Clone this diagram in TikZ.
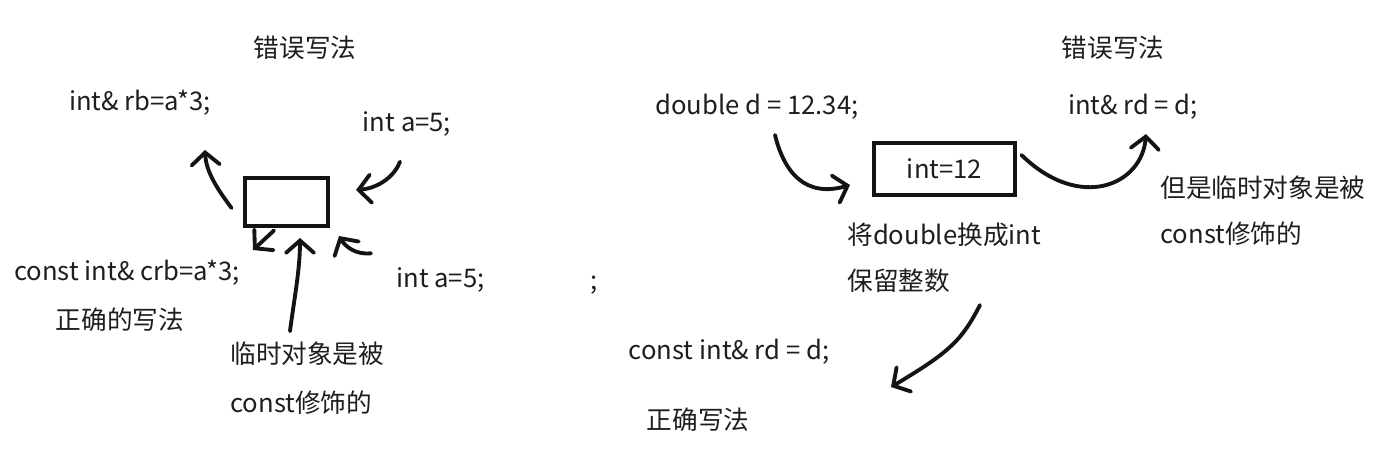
\documentclass[tikz,border=0pt]{standalone}
\usepackage{fontspec}
\setmainfont{Noto Sans CJK SC}
\usepackage{tikz}
\usetikzlibrary{arrows.meta,positioning}
\definecolor{inkBlack}{RGB}{20,20,20}
\definecolor{txtGray}{RGB}{30,30,30}

\begin{document}
\begin{tikzpicture}[x=0.02cm,y=-0.02cm,
    lbl/.style={text=txtGray, font=\fontsize{14.6}{17}\selectfont, inner sep=0pt},
    memo/.style={draw=inkBlack, line width=2.8pt, inner sep=0pt},
    pen/.style={draw=inkBlack, line width=2.2pt, line cap=round,
      -{Straight Barb[length=7pt,width=16pt,line cap=round]}}]
    \useasboundingbox (0,0) rectangle (1389,474);

    % left part: int& rb=a*3
    \node[lbl] (wrongL) at (305,48) {错误写法};
    \node[lbl] (rb) at (140,103) {int\& rb=a*3;};
    \node[lbl] (aTop) at (407,124) {int a=5;};
    \node[memo, minimum width=1.66cm, minimum height=0.96cm] (tmpL) at (286.5,202) {};
    \node[lbl] (crb) at (127,273) {const int\& crb=a*3;};
    \node[lbl] (rightL) at (120,320) {正确的写法};
    \node[lbl, anchor=west] (aBot) at (396,280) {int a=5;};
    \node[lbl] (semi) at (594,285) {;};
    \node[lbl, anchor=west, align=left] (noteL) at (230,378)
      {临时对象是被\\[11pt]const修饰的};

    \coordinate (rbTip) at (205,150);
    \coordinate (aTopTip) at (356,190);
    \coordinate (crbTip) at (253,250);
    \coordinate (upTip) at (300,238);
    \coordinate (aBotTip) at (339,236);

    \draw[pen] ([xshift=-0.22cm,yshift=-0.12cm]tmpL.west) .. controls (218,190) and (206,172) .. (rbTip);
    \draw[pen] ([xshift=-0.14cm,yshift=-0.5cm]aTop.south) .. controls (395,175) and (380,188) .. (aTopTip);
    \draw[pen] ([xshift=-0.25cm,yshift=-0.04cm]tmpL.south) -- (crbTip);
    \draw[pen] ([xshift=1.2cm,yshift=0.2cm]noteL.north west) .. controls (294,300) and (300,270) .. (upTip);
    \draw[pen] ([xshift=-0.5cm,yshift=0.28cm]aBot.north west) .. controls (355,255) and (345,246) .. (aBotTip);

    % right part: double -> int temporary
    \node[lbl] (dbl) at (757,107) {double d = 12.34;};
    \node[memo, minimum width=2.82cm, minimum height=1.04cm] (tmpR) at (944.5,169) {};
    \node[lbl] at (tmpR) {int=12};
    \node[lbl, anchor=west, align=left] (noteM) at (847,258)
      {将double换成int\\[9pt]保留整数};
    \node[lbl] (crd) at (729,352) {const int\& rd = d;};
    \node[lbl] (rightR) at (698,420) {正确写法};
    \node[lbl] (wrongR) at (1113,48) {错误写法};
    \node[lbl] (rd) at (1133,107) {int\& rd = d;};
    \node[lbl, anchor=west, align=left] (noteR) at (1160,211)
      {但是临时对象是被\\[9pt]const修饰的};

    \coordinate (dblTip) at (850,185);
    \coordinate (crdTip) at (891,387);
    \coordinate (rdTip) at (1146,134);

    \draw[pen] ([xshift=0.36cm,yshift=-0.3cm]dbl.south) .. controls (784,172) and (805,198) .. (dblTip);
    \draw[pen] ([xshift=2.66cm,yshift=-0.24cm]noteM.south west) .. controls (962,340) and (950,352) .. (crdTip);
    \draw[pen] ([xshift=0.08cm,yshift=0.28cm]tmpR.east) .. controls (1080,212) and (1142,185) .. (rdTip);
\end{tikzpicture}
\end{document}
